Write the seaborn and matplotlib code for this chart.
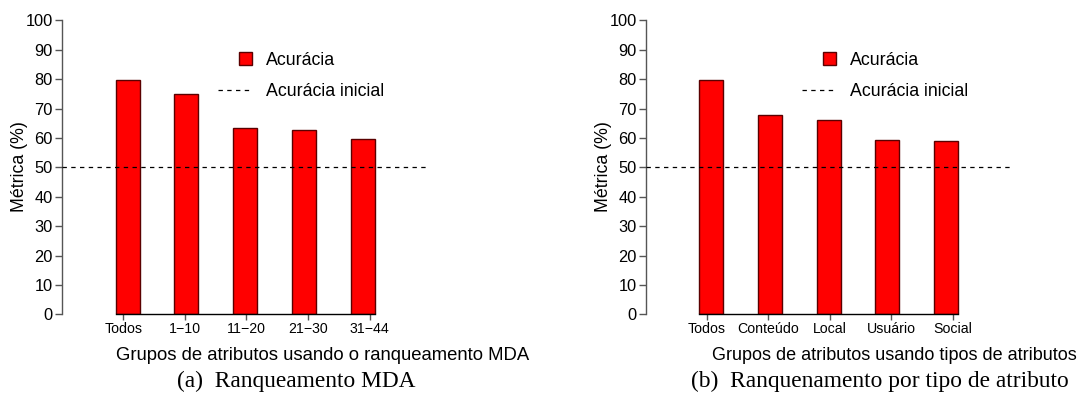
import matplotlib
matplotlib.use("Agg")
import matplotlib.pyplot as plt
import seaborn as sns
import numpy as np
import pandas as pd
from matplotlib.patches import Patch, Rectangle
from matplotlib.lines import Line2D
from matplotlib.legend_handler import HandlerPatch

sns.set_theme(style="white")
plt.rcParams['font.family'] = ['Liberation Sans', 'DejaVu Sans']
plt.rcParams['text.color'] = 'black'
plt.rcParams['axes.labelcolor'] = 'black'
plt.rcParams['xtick.color'] = 'black'
plt.rcParams['ytick.color'] = 'black'

# ---- data ----
cats_a = ["Todos", "1\u221210", "11\u221220", "21\u221230", "31\u221244"]
vals_a = [79.8, 75.0, 63.3, 62.8, 59.5]
cats_b = ["Todos", "Conteúdo", "Local", "Usuário", "Social"]
vals_b = [79.8, 67.7, 66.1, 59.3, 58.9]
baseline = 50
yticks = list(range(0, 101, 10))
xlabel_a = "Grupos de atributos usando o ranqueamento MDA"
xlabel_b = "Grupos de atributos usando tipos de atributos"
caption_a = "(a)  Ranqueamento MDA"
caption_b = "(b)  Ranquenamento por tipo de atributo"
ylabel = "Métrica (%)"
leg_labels = ["Acurácia", "Acurácia inicial"]

W, H = 1080, 397
fig = plt.figure(figsize=(W / 100, H / 100), dpi=100)

BAR_RED = "#ff0000"
BAR_EDGE = "#5a0000"


def square_patch(legend, orig_handle, xdescent, ydescent, width, height, fontsize):
    s = height * 1.05
    return Rectangle((width - s - xdescent, -ydescent + (height - s) / 2), s, s)


def panel(x0, x1, cats, vals, xlabel, caption, xlab_x, xlab_ha, xlab_fs, cap_cx, ylab_x, leg_x):
    y_top, y_bot = 20.3, 314.3
    ax = fig.add_axes([x0 / W, 1 - y_bot / H, (x1 - x0) / W, (y_bot - y_top) / H])
    df = pd.DataFrame({"cat": cats, "val": vals})
    sns.barplot(data=df, x="cat", y="val", ax=ax, color=BAR_RED, saturation=1,
                width=0.41, edgecolor=BAR_EDGE, linewidth=1.0)
    n = len(cats)
    ax.set_xlim(-1.115, 5.14)
    ax.set_ylim(0, 100)
    ax.axhline(baseline, color="black", lw=0.9, ls=(0, (3.5, 3.5)), zorder=3)
    ticks = -0.075 + 1.047 * np.arange(n)
    ax.set_xticks(ticks)
    ax.set_xticklabels(cats, fontsize=10.2)
    ax.set_yticks(yticks)
    ax.set_yticklabels([str(t) for t in yticks], fontsize=11.8)
    for s in ["top", "right"]:
        ax.spines[s].set_visible(False)
    ax.spines["left"].set_color("#555555")
    ax.spines["left"].set_linewidth(1.0)
    ax.spines["bottom"].set_color("black")
    ax.spines["bottom"].set_linewidth(1.0)
    ax.spines["bottom"].set_bounds(-0.205, 4.205)
    ax.tick_params(axis="y", direction="out", length=5, width=1, color="#555555",
                   labelcolor="black", pad=1.5, left=True)
    ax.tick_params(axis="x", direction="out", length=4, width=1, color="#555555",
                   labelcolor="black", pad=1.5, bottom=True)
    ax.set_xlabel("")
    ax.set_ylabel("")
    ax.grid(False)

    handles = [Patch(facecolor=BAR_RED, edgecolor=BAR_EDGE, linewidth=1.0),
               Line2D([], [], color="black", lw=0.9, ls=(0, (3.5, 3.5)))]
    fig.legend(handles, leg_labels, loc="upper left",
               bbox_to_anchor=(leg_x / W, 1 - 52 / H), frameon=False,
               fontsize=12.8, handlelength=1.9, handletextpad=0.82,
               labelspacing=0.78, borderpad=0, borderaxespad=0,
               handler_map={Patch: HandlerPatch(patch_func=square_patch)})

    fig.text(xlab_x / W, 1 - 355 / H, xlabel, fontsize=xlab_fs, ha=xlab_ha, va="center")
    fig.text(ylab_x / W, 1 - 167 / H, ylabel, fontsize=12.8, rotation=90,
             ha="center", va="center")
    fig.text(cap_cx / W, 1 - 381 / H, caption, fontsize=16.8, ha="center", va="center",
             family=["Liberation Serif", "DejaVu Serif"])
    return ax


panel(62, 430, cats_a, vals_a, xlabel_a, caption_a, 116, "left", 13.3, 296, 20, 218)
panel(646, 1013, cats_b, vals_b, xlabel_b, caption_b, 1077, "right", 13.0, 880, 603, 802)

fig.savefig("out.png", dpi=100)
